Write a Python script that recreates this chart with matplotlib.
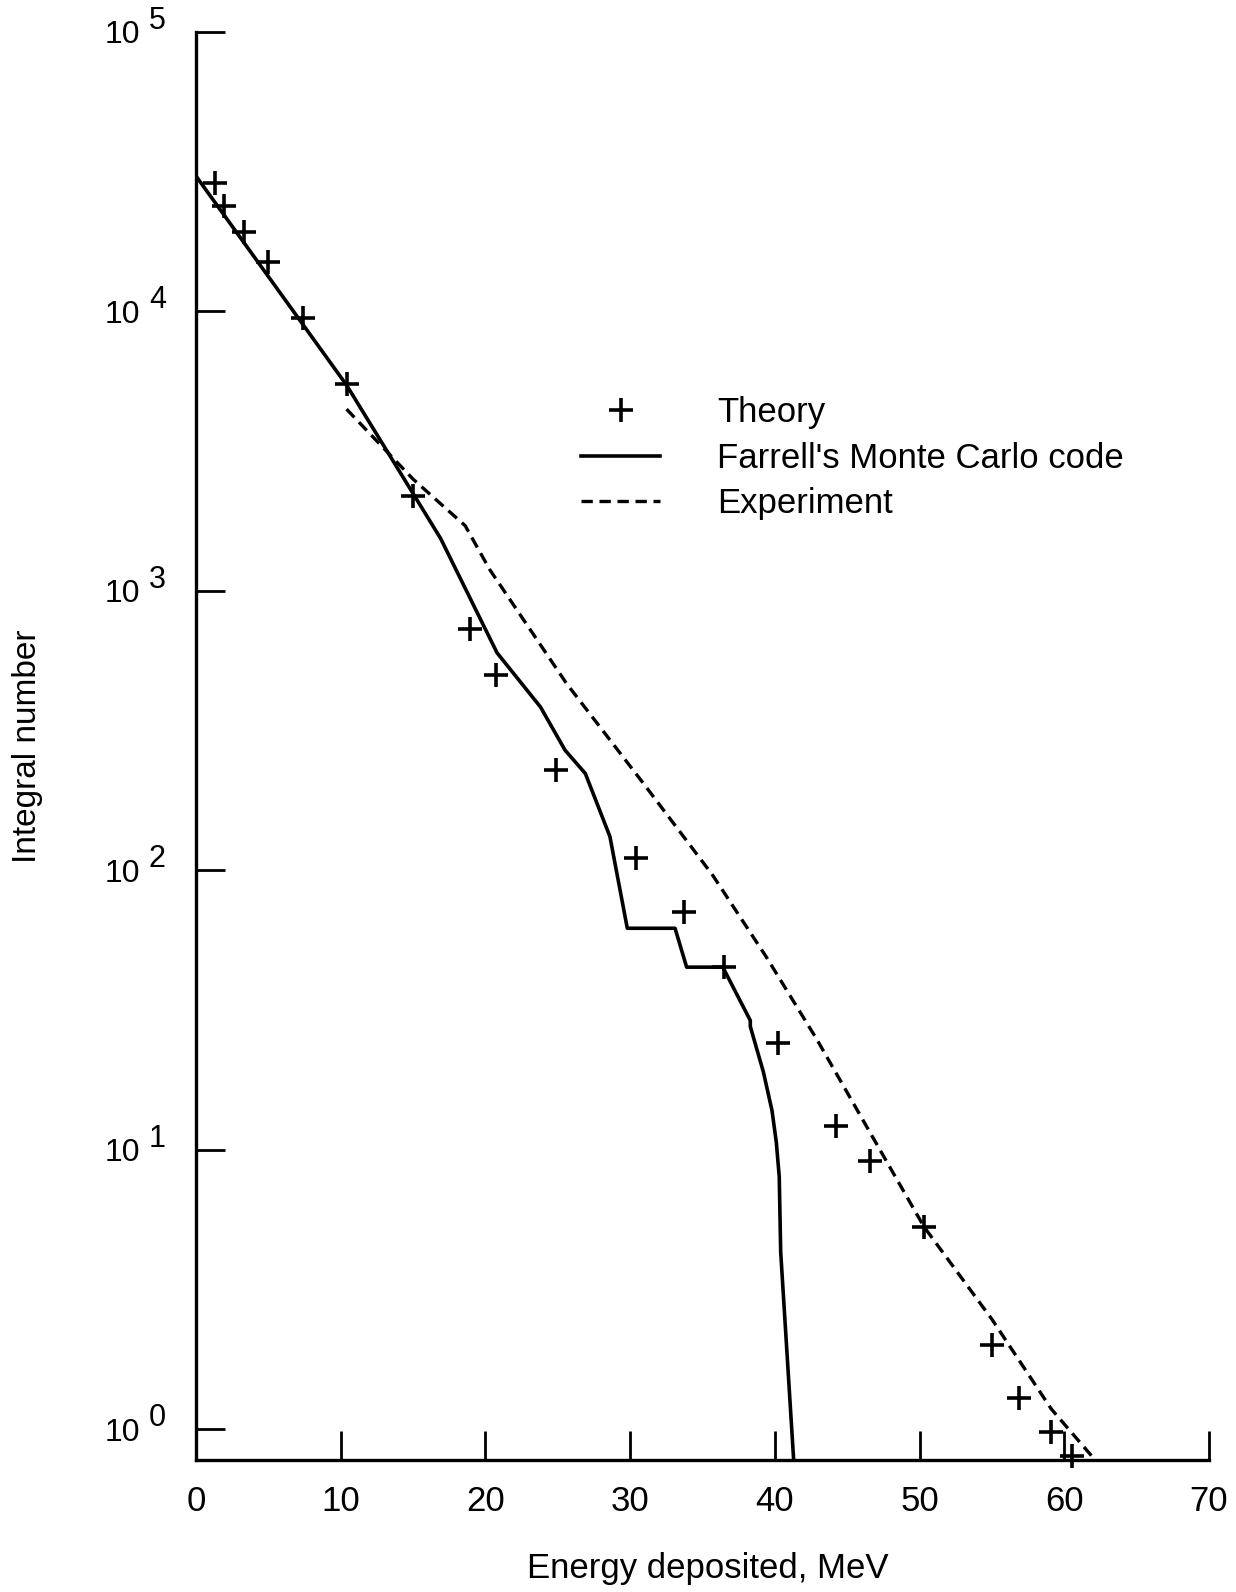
import numpy as np
import matplotlib.pyplot as plt
from matplotlib.ticker import NullLocator

plt.rcParams['font.family'] = ['Liberation Sans', 'DejaVu Sans']

# Theory (crosses)
theory_e = [1.3, 1.9, 3.3, 5.0, 7.4, 10.4, 15.0, 18.9, 20.7, 24.9, 30.4,
            33.7, 36.5, 40.2, 44.2, 46.6, 50.3, 55.0, 56.9, 59.1, 60.5]
theory_n = [28700, 23900, 19200, 15000, 9500, 5500, 2190, 730, 500, 228, 111,
            71, 45, 24, 12.2, 9.1, 5.3, 2.0, 1.29, 0.98, 0.80]

# Farrell's Monte Carlo code (solid)
mc_e = [0, 10.4, 16.9, 20.8, 23.8, 25.5, 26.9, 28.6, 29.8, 33.1, 33.9,
        36.4, 38.3, 38.3, 39.2, 39.8, 40.1, 40.3, 40.4, 41.3]
mc_n = [30500, 5450, 1540, 600, 384, 269, 222, 132, 62, 62, 45,
        45, 29, 27.6, 19, 13.8, 10.6, 8.0, 4.3, 0.77]

# Experiment (dashed)
exp_e = [10.4, 15.0, 18.6, 20.3, 25.6, 30.9, 35.7, 39.4, 42.9, 47.6, 50.3,
         55.0, 59.1, 61.9]
exp_n = [4470, 2510, 1710, 1190, 466, 205, 96, 49, 24.8, 9.3, 5.3,
         2.47, 1.18, 0.80]

x_ticks = [0, 10, 20, 30, 40, 50, 60, 70]
y_ticks = [1, 10, 100, 1000, 10000, 100000]
y_exps = ['0', '1', '2', '3', '4', '5']

fig = plt.figure(figsize=(12.36, 15.92), dpi=100)
ax = fig.add_axes([0.1586, 0.0829, 0.8196, 0.8970])

h_ex, = ax.plot(exp_e, exp_n, color='black', lw=2.4, ls=(0, (3.4, 2.0)),
                label='Experiment')
h_mc, = ax.plot(mc_e, mc_n, color='black', lw=2.6,
                label="Farrell's Monte Carlo code")
h_th, = ax.plot(theory_e, theory_n, ls='none', marker='+', ms=17, mew=2.6,
                color='black', clip_on=False, label='Theory')

ax.set_yscale('log')
ax.set_xlim(0, 70)
ax.set_ylim(0.775, 1e5)

for s in ['top', 'right']:
    ax.spines[s].set_visible(False)
for s in ['left', 'bottom']:
    ax.spines[s].set_linewidth(2.4)

ax.set_xticks(x_ticks)
ax.set_xticklabels([str(v) for v in x_ticks])
ax.set_yticks(y_ticks)
ax.set_yticklabels(['10'] * len(y_ticks))
ax.yaxis.set_minor_locator(NullLocator())
ax.tick_params(direction='in', length=21, width=2, colors='black')
ax.tick_params(axis='x', labelsize=25, pad=18)
ax.tick_params(axis='y', labelsize=23, pad=40)

# superscript exponents next to the "10" labels
for v, e in zip(y_ticks, y_exps):
    ax.annotate(e, xy=(0, v), xycoords=('axes fraction', 'data'),
                xytext=(-34, 8), textcoords='offset points',
                ha='left', va='center', fontsize=22)

ax.set_xlabel('Energy deposited, MeV', fontsize=25)
ax.xaxis.set_label_coords(0.505, -0.0644)
ax.set_ylabel('Integral number', fontsize=24)
ax.yaxis.set_label_coords(-0.151, 0.5)

ax.legend(handles=[h_th, h_mc, h_ex], loc='upper left',
          bbox_to_anchor=(0.470, 0.751), bbox_transform=fig.transFigure,
          frameon=False, fontsize=25, handlelength=2.28, handletextpad=1.64,
          labelspacing=0.36, borderpad=0, borderaxespad=0, numpoints=1)

fig.savefig('out.png', dpi=100)
